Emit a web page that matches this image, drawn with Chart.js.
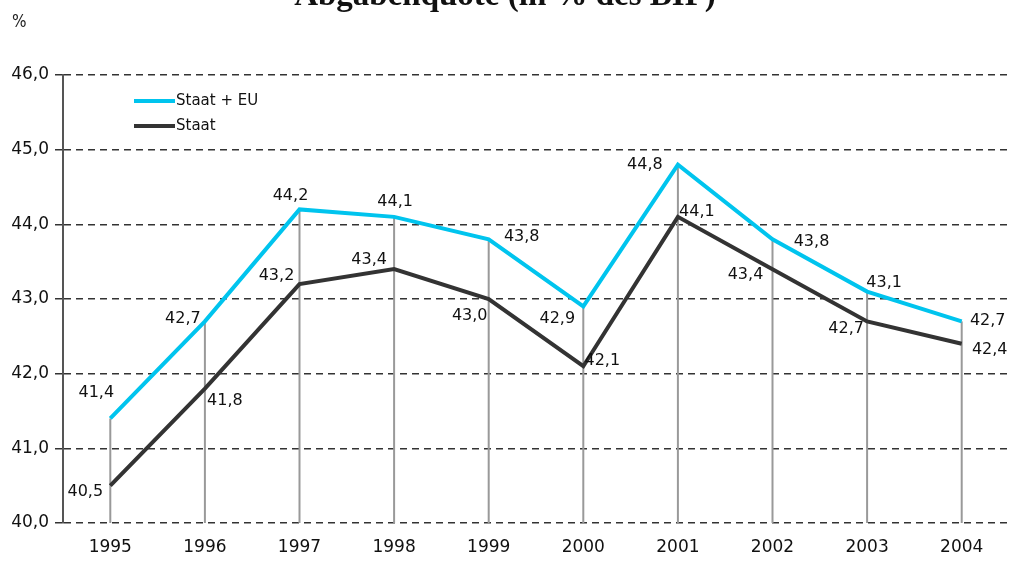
<!DOCTYPE html>
<html>
<head>
<meta charset="utf-8">
<script src="https://cdn.jsdelivr.net/npm/chart.js@4"></script>
<style>
    html, body { margin: 0; padding: 0; background: #fff; }
    #wrap { position: relative; width: 1010px; height: 561px; overflow: hidden; }
    #title { position: absolute; left: 0; width: 1010px; top: -24px; text-align: center; line-height: 1;
        font: bold 33px "Liberation Serif", serif; color: #111; }
    #unit { position: absolute; left: 12px; top: 11px; line-height: 1; font: 17px "DejaVu Sans Condensed", "DejaVu Sans", sans-serif; color: #222; }
</style>
</head>
<body>
<div id="wrap">
    <canvas id="chart" width="1010" height="561"></canvas>
    <div id="title">Abgabenquote (in % des BIP)</div>
    <div id="unit">%</div>
</div>
<script>
// Data
const years = ['1995', '1996', '1997', '1998', '1999', '2000', '2001', '2002', '2003', '2004'];
const staatEU = [41.4, 42.7, 44.2, 44.1, 43.8, 42.9, 44.8, 43.8, 43.1, 42.7];
const staat = [40.5, 41.8, 43.2, 43.4, 43.0, 42.1, 44.1, 43.4, 42.7, 42.4];

// label offsets (dx, dy from the point)
const euLabelPos = [[-14, -26], [-22, -3], [-9, -14], [1, -15], [33, -2], [-26, 12], [-33, 0], [39, 3], [17, -9], [26, -1]];
const staatLabelPos = [[-25, 6], [20, 12], [-23, -8], [-25, -9], [-19, 17], [19, -5], [19, -5], [-27, 6], [-21, 7], [28, 6]];

const fmt = v => v.toFixed(1).replace('.', ',');
const labelFont = '16px "DejaVu Sans", sans-serif';

// --- Plugins ---
const dropLines = {
    id: 'dropLines',
    beforeDatasetsDraw(chart) {
        const { ctx, scales: { x, y } } = chart;
        ctx.save();
        ctx.strokeStyle = '#999';
        ctx.lineWidth = 2;
        years.forEach((yr, i) => {
            const px = x.getPixelForValue(i);
            ctx.beginPath();
            ctx.moveTo(px, y.getPixelForValue(Math.max(staatEU[i], staat[i])));
            ctx.lineTo(px, y.bottom);
            ctx.stroke();
        });
        ctx.restore();
    }
};

const valueLabels = {
    id: 'valueLabels',
    afterDatasetsDraw(chart) {
        const { ctx, scales: { x, y } } = chart;
        ctx.save();
        ctx.font = labelFont;
        ctx.fillStyle = '#111';
        ctx.textAlign = 'center';
        ctx.textBaseline = 'middle';
        const draw = (data, pos) => data.forEach((v, i) => {
            ctx.fillText(fmt(v), x.getPixelForValue(i) + pos[i][0], y.getPixelForValue(v) + pos[i][1]);
        });
        draw(staatEU, euLabelPos);
        draw(staat, staatLabelPos);

        // legend
        chart.data.datasets.forEach((ds, k) => {
            const ly = 101 + k * 25;
            ctx.strokeStyle = ds.borderColor;
            ctx.lineWidth = 4;
            ctx.beginPath();
            ctx.moveTo(134, ly);
            ctx.lineTo(175, ly);
            ctx.stroke();
            ctx.textAlign = 'left';
            ctx.font = '15px "DejaVu Sans", sans-serif';
            ctx.fillText(ds.label, 176, ly);
        });
        ctx.restore();
    }
};

new Chart(document.getElementById('chart'), {
    type: 'line',
    data: {
        labels: years,
        datasets: [
            { label: 'Staat + EU', data: staatEU, borderColor: '#00c4ee', borderWidth: 4, pointRadius: 0, tension: 0 },
            { label: 'Staat', data: staat, borderColor: '#333333', borderWidth: 4, pointRadius: 0, tension: 0 }
        ]
    },
    options: {
        responsive: false,
        animation: false,
        layout: { padding: { top: 75, right: 1, left: 0, bottom: 0 } },
        plugins: { legend: { display: false }, tooltip: { enabled: false } },
        scales: {
            x: {
                offset: true,
                grid: { display: false },
                border: { display: false },
                ticks: { color: '#111', font: { family: 'DejaVu Sans', size: 17 }, padding: 6 },
                afterFit: s => { s.height = 38; }
            },
            y: {
                min: 40, max: 46,
                ticks: { stepSize: 1, callback: v => fmt(v), color: '#111', font: { family: 'DejaVu Sans', size: 17 }, padding: 6 },
                grid: { color: '#333', lineWidth: 1.5, tickLength: 8, tickBorderDash: [] },
                border: { color: '#555', width: 2, dash: [7, 5] },
                afterFit: s => { s.width = 63; }
            }
        }
    },
    plugins: [dropLines, valueLabels]
});
</script>
</body>
</html>
